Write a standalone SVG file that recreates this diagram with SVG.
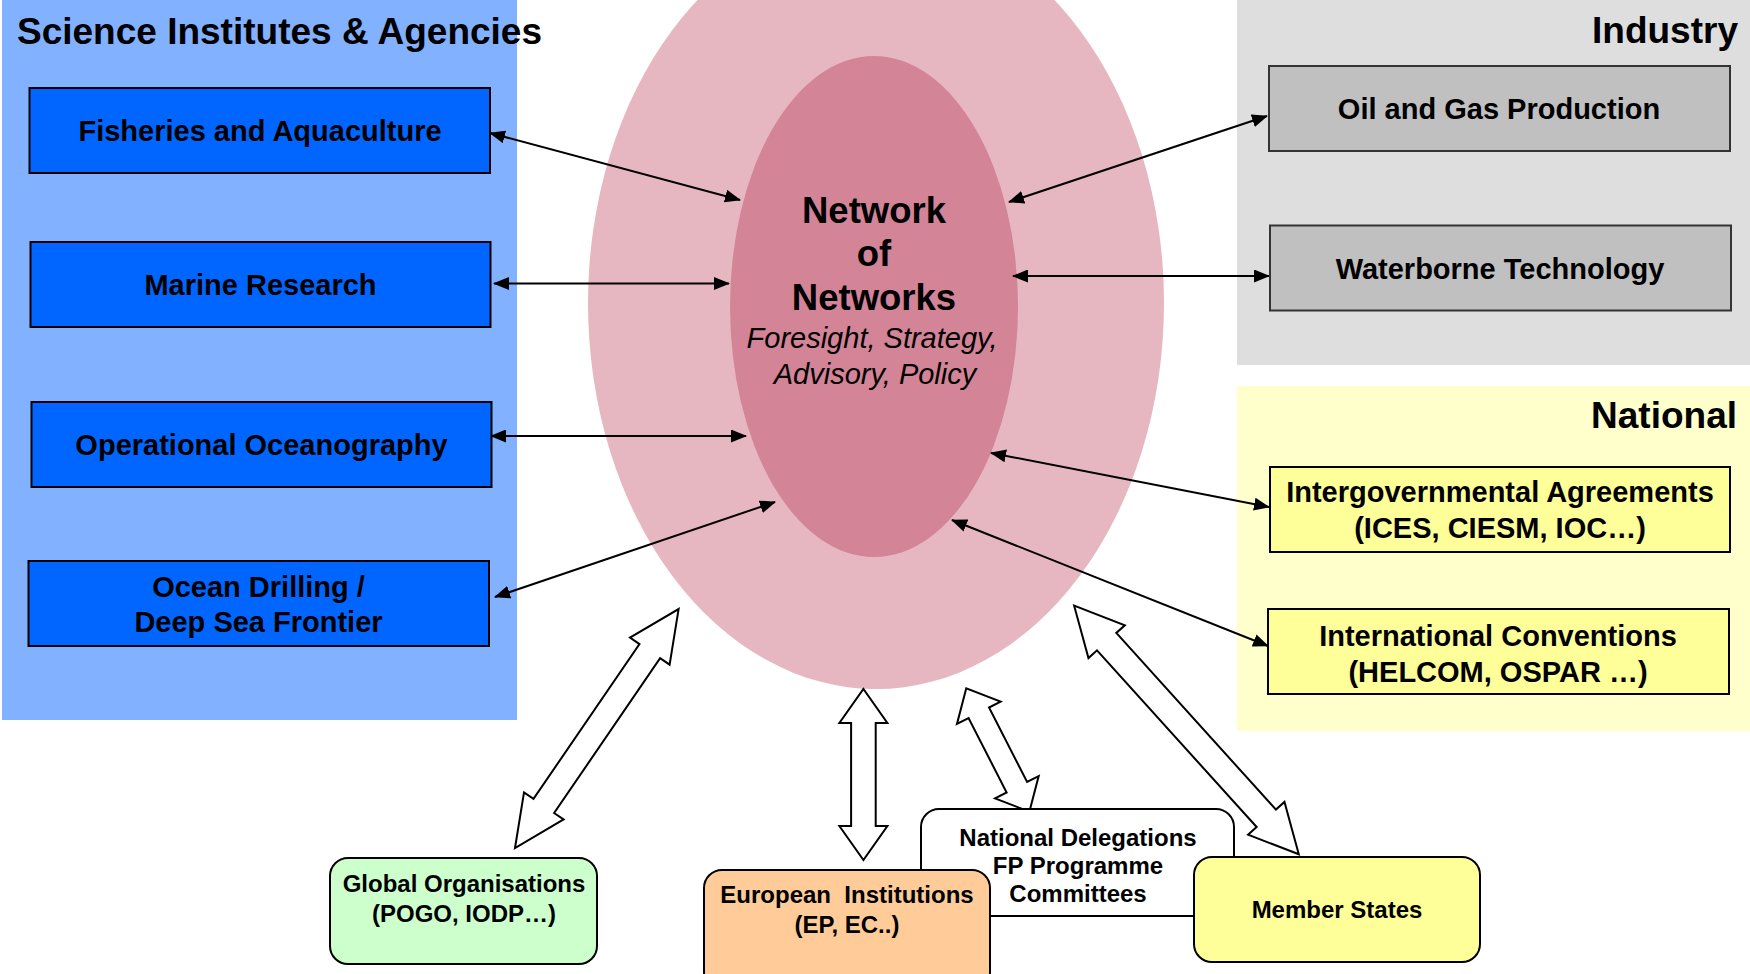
<svg xmlns="http://www.w3.org/2000/svg" width="1750" height="974" viewBox="0 0 1750 974">
<style>
text{font-family:"Liberation Sans",Arial,sans-serif;font-weight:bold;fill:#000}
.hd{font-size:37px}
.nb{font-size:29px;text-anchor:middle}
.sb{font-size:24px;text-anchor:middle}
.blue{fill:#0066FF;stroke:#000;stroke-width:2}
.grey{fill:#C0C0C0;stroke:#333;stroke-width:2}
.yel{fill:#FFFF99;stroke:#000;stroke-width:2}
.rb{stroke:#000;stroke-width:2}
.ln{stroke:#000;stroke-width:2;fill:none;marker-start:url(#ah);marker-end:url(#ah)}
.blk{fill:#fff;stroke:#000;stroke-width:2;stroke-linejoin:miter}
</style>
<defs>
<marker id="ah" viewBox="0 0 16 13" refX="15" refY="6.5" markerWidth="16" markerHeight="13" markerUnits="userSpaceOnUse" orient="auto-start-reverse">
<path d="M0,0 L16,6.5 L0,13 z" fill="#000"/>
</marker>
</defs>
<rect width="1750" height="974" fill="#fff"/>

<g id="panel-science">
<rect x="2" y="0" width="515" height="720" fill="#82B1FF"/>
<text class="hd" x="17" y="44">Science Institutes &amp; Agencies</text>
</g>
<g id="panel-industry">
<rect x="1237" y="0" width="513" height="365" fill="#DEDEDE"/>
<text class="hd" x="1738" y="43" text-anchor="end">Industry</text>
</g>
<g id="panel-national">
<rect x="1237" y="386" width="513" height="345" fill="#FFFFCC"/>
<text class="hd" x="1737" y="428" text-anchor="end">National</text>
</g>

<g id="network">
<ellipse cx="876" cy="303" rx="288" ry="386" fill="#E6B7C1"/>
<ellipse cx="874" cy="306.5" rx="144" ry="250.5" fill="#D48497"/>
<text x="874" y="223" text-anchor="middle" style="font-size:36.5px">Network</text>
<text x="874" y="266" text-anchor="middle" style="font-size:36.5px">of</text>
<text x="874" y="310" text-anchor="middle" style="font-size:36.5px">Networks</text>
<text x="872" y="348" text-anchor="middle" style="font-size:29px;font-weight:normal;font-style:italic">Foresight, Strategy,</text>
<text x="875" y="384" text-anchor="middle" style="font-size:29px;font-weight:normal;font-style:italic">Advisory, Policy</text>
</g>

<g id="connectors">
<line class="ln" x1="490" y1="133" x2="740" y2="200"/>
<line class="ln" x1="494" y1="283.5" x2="729" y2="283.5"/>
<line class="ln" x1="491" y1="436" x2="746" y2="436"/>
<line class="ln" x1="495" y1="597" x2="775" y2="502"/>
<line class="ln" x1="1009" y1="202" x2="1267" y2="116"/>
<line class="ln" x1="1013" y1="276" x2="1269" y2="276"/>
<line class="ln" x1="991" y1="453" x2="1269" y2="507"/>
<line class="ln" x1="952" y1="520" x2="1268" y2="646"/>
<polygon class="blk" transform="translate(515,848) rotate(-55.6)" points="0,0 51,-24 51,-12.5 238.6,-12.5 238.6,-24 289.6,0 238.6,24 238.6,12.5 51,12.5 51,24"/>
<polygon class="blk" transform="translate(863.4,860) rotate(-90)" points="0,0 34,-24 34,-12.3 137,-12.3 137,-24 171,0 137,24 137,12.3 34,12.3 34,24"/>
<polygon class="blk" transform="translate(1029.4,811.7) rotate(-117.1)" points="0,0 27.5,-24.5 27.5,-11.5 111.1,-11.5 111.1,-24.5 138.6,0 111.1,24.5 111.1,11.5 27.5,11.5 27.5,24.5"/>
<polygon class="blk" transform="translate(1298.8,854.3) rotate(-132.1)" points="0,0 48.5,-24.5 48.5,-13 286.6,-13 286.6,-24.5 335.1,0 286.6,24.5 286.6,13 48.5,13 48.5,24.5"/>
</g>

<g id="fisheries">
<rect class="blue" x="29.5" y="88" width="460.5" height="85"/>
<text class="nb" x="260" y="141">Fisheries and Aquaculture</text>
</g>
<g id="marine-research">
<rect class="blue" x="30.5" y="242" width="460" height="85"/>
<text class="nb" x="260.5" y="295">Marine Research</text>
</g>
<g id="operational-oceanography">
<rect class="blue" x="31.5" y="402" width="460" height="85"/>
<text class="nb" x="261.5" y="455">Operational Oceanography</text>
</g>
<g id="ocean-drilling">
<rect class="blue" x="28.5" y="561" width="460.5" height="85"/>
<text class="nb" x="258.5" y="597">Ocean Drilling /</text>
<text class="nb" x="258.5" y="632">Deep Sea Frontier</text>
</g>

<g id="oil-gas">
<rect class="grey" x="1269" y="66" width="461" height="85"/>
<text class="nb" x="1499" y="119">Oil and Gas Production</text>
</g>
<g id="waterborne">
<rect class="grey" x="1270" y="225.5" width="461" height="85"/>
<text class="nb" x="1500" y="279">Waterborne Technology</text>
</g>

<g id="intergovernmental">
<rect class="yel" x="1270" y="467" width="460" height="85"/>
<text class="nb" x="1500" y="502">Intergovernmental Agreements</text>
<text class="nb" x="1500" y="538">(ICES, CIESM, IOC…)</text>
</g>
<g id="international-conventions">
<rect class="yel" x="1268" y="609" width="461" height="85"/>
<text class="nb" x="1498" y="646">International Conventions</text>
<text class="nb" x="1498" y="682">(HELCOM, OSPAR …)</text>
</g>

<g id="global-organisations">
<rect class="rb" x="330" y="858" width="267" height="106" rx="18" fill="#CCFFCC"/>
<text class="sb" x="464" y="892">Global Organisations</text>
<text class="sb" x="464" y="922">(POGO, IODP…)</text>
</g>
<g id="national-delegations">
<rect class="rb" x="921" y="809" width="313" height="107" rx="18" fill="#fff"/>
<text class="sb" x="1078" y="846">National Delegations</text>
<text class="sb" x="1078" y="874">FP Programme</text>
<text class="sb" x="1078" y="902">Committees</text>
</g>
<g id="european-institutions">
<rect class="rb" x="704" y="870" width="286" height="120" rx="18" fill="#FFCC99"/>
<text class="sb" x="847" y="903" xml:space="preserve">European  Institutions</text>
<text class="sb" x="847" y="933">(EP, EC..)</text>
</g>
<g id="member-states">
<rect class="rb" x="1194" y="857" width="286" height="105" rx="18" fill="#FFFF99"/>
<text class="sb" x="1337" y="918">Member States</text>
</g>
</svg>
